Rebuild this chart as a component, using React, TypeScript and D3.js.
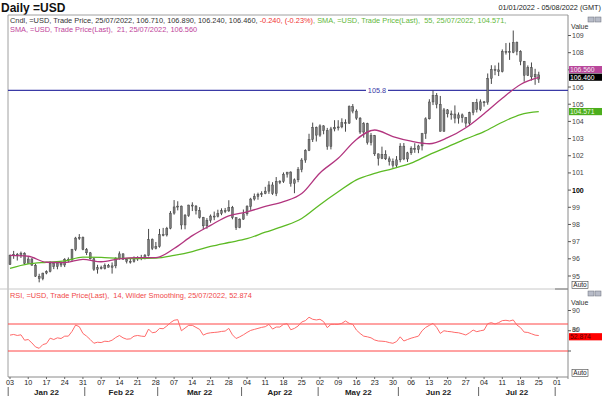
import * as d3 from 'd3';
import React, { useEffect, useRef } from 'react';

// trading days Jan 3 2022 .. Jul 25 2022 (weekdays), index 0..145
const opens = [
  95.67, 96.21, 96.26, 96.18, 96.33, 95.74, 95.99, 95.63, 94.99, 94.84,
  95.17, 95.26, 95.75, 95.54, 95.76, 95.64, 95.96, 95.94, 96.54, 97.21,
  97.24, 96.54, 96.35, 96.0, 95.39, 95.48, 95.42, 95.62, 95.51, 95.59,
  96.04, 96.29, 95.97, 95.86, 95.84, 96.05, 96.02, 96.06, 96.19, 97.12,
  96.61, 96.71, 97.41, 97.39, 97.78, 98.66, 99.02, 99.07, 97.97, 98.51,
  99.13, 99.07, 98.8, 98.4, 97.92, 98.24, 98.49, 98.48, 98.64, 98.8,
  98.79, 98.99, 98.39, 97.81, 98.31, 98.62, 99.04, 99.48, 99.63, 99.76,
  99.79, 99.94, 100.3, 99.8, 100.51, 100.5, 100.93, 101.05, 100.39, 100.6,
  101.19, 101.75, 102.31, 102.95, 103.65, 103.2, 103.74, 103.46, 102.54, 103.56,
  103.66, 103.68, 103.92, 103.9, 104.85, 104.6, 104.19, 103.38, 103.86, 102.76,
  103.17, 102.11, 101.85, 102.09, 101.82, 101.66, 101.45, 101.76, 102.56, 101.81,
  102.17, 102.44, 102.36, 102.57, 103.28, 104.15, 105.13, 105.51, 105.0, 103.42,
  104.67, 104.44, 104.43, 104.19, 104.38, 104.21, 103.9, 104.51, 105.09, 104.69,
  105.14, 105.12, 106.5, 107.02, 107.0, 106.89, 108.07, 108.06, 108.02, 108.6,
  108.08, 107.49, 106.68, 107.13, 106.59, 106.71
];
const highs = [
  96.25, 96.46, 96.34, 96.42, 96.38, 96.12, 96.04, 95.7, 95.13, 95.19,
  95.33, 95.86, 95.77, 95.84, 95.8, 96.04, 96.08, 96.58, 97.28, 97.44,
  97.3, 96.63, 96.4, 96.06, 95.65, 95.6, 95.73, 95.7, 95.79, 96.09,
  96.43, 96.32, 96.05, 96.05, 96.14, 96.15, 96.23, 96.28, 97.74, 97.19,
  96.98, 97.74, 97.8, 97.86, 98.78, 99.42, 99.35, 99.1, 98.61, 99.15,
  99.29, 99.13, 99.01, 98.44, 98.37, 98.58, 98.75, 98.86, 98.94, 98.96,
  99.41, 99.08, 98.42, 98.36, 98.87, 99.12, 99.55, 99.8, 99.85, 99.93,
  100.19, 100.52, 100.46, 100.76, 100.58, 101.03, 101.04, 101.1, 100.68, 101.34,
  101.86, 102.38, 103.28, 103.93, 103.7, 103.83, 103.78, 103.62, 103.68, 104.07,
  104.07, 104.18, 104.12, 104.93, 105.01, 104.7, 104.25, 103.96, 103.92, 103.32,
  103.21, 102.13, 102.53, 102.32, 101.96, 101.84, 101.98, 102.73, 102.74, 102.23,
  102.55, 102.73, 102.64, 103.33, 104.24, 105.29, 105.79, 105.65, 105.48, 104.78,
  104.72, 104.63, 104.93, 104.52, 104.46, 104.25, 104.56, 105.11, 105.31, 105.28,
  105.19, 106.79, 107.27, 107.26, 107.42, 108.19, 108.56, 108.58, 109.29, 108.65,
  108.14, 107.52, 107.26, 107.43, 107.06, 106.89
];
const lows = [
  95.64, 96.0, 95.9, 96.05, 95.7, 95.72, 95.6, 94.95, 94.63, 94.75,
  95.1, 95.21, 95.4, 95.39, 95.52, 95.52, 95.8, 95.82, 96.45, 97.1,
  96.5, 96.22, 95.96, 95.3, 95.14, 95.38, 95.38, 95.5, 95.14, 95.45,
  95.95, 95.95, 95.73, 95.72, 95.78, 95.88, 95.92, 95.97, 96.14, 96.51,
  96.55, 96.65, 97.31, 97.3, 97.72, 98.57, 98.82, 97.71, 97.72, 98.44,
  98.78, 98.58, 98.34, 97.71, 97.75, 98.1, 98.25, 98.41, 98.54, 98.66,
  98.73, 98.3, 97.68, 97.78, 98.27, 98.51, 98.85, 99.39, 99.44, 99.6,
  99.76, 99.78, 99.72, 99.65, 100.35, 100.42, 100.73, 100.2, 99.82, 100.46,
  101.04, 101.59, 102.27, 102.8, 102.83, 103.1, 103.25, 102.35, 102.37, 103.42,
  103.47, 103.6, 103.4, 103.85, 104.47, 104.09, 103.27, 103.05, 102.65, 102.6,
  101.99, 101.43, 101.8, 101.75, 101.43, 101.3, 101.3, 101.62, 101.74, 101.64,
  102.05, 102.17, 102.15, 102.31, 102.98, 104.11, 104.95, 104.76, 103.41, 103.4,
  104.23, 104.1, 103.89, 103.87, 103.93, 103.67, 103.74, 104.36, 104.52, 104.6,
  104.86, 104.97, 106.18, 106.69, 106.64, 106.85, 107.89, 107.58, 107.97, 107.85,
  107.27, 106.31, 106.64, 106.38, 106.13, 106.24
];
const closes = [
  96.21, 96.26, 96.18, 96.33, 95.74, 95.99, 95.63, 94.99, 94.84, 95.17,
  95.26, 95.75, 95.54, 95.76, 95.64, 95.96, 95.94, 96.54, 97.21, 97.24,
  96.54, 96.35, 96.0, 95.39, 95.48, 95.42, 95.62, 95.51, 95.59, 96.04,
  96.29, 95.97, 95.86, 95.84, 96.05, 96.02, 96.06, 96.19, 97.12, 96.61,
  96.71, 97.41, 97.39, 97.78, 98.66, 99.02, 99.07, 97.97, 98.51, 99.13,
  99.07, 98.8, 98.4, 97.92, 98.24, 98.49, 98.48, 98.64, 98.8, 98.79,
  98.99, 98.39, 97.81, 98.31, 98.62, 99.04, 99.48, 99.63, 99.76, 99.79,
  99.94, 100.3, 99.8, 100.51, 100.5, 100.93, 101.05, 100.39, 100.6, 101.19,
  101.75, 102.31, 102.95, 103.65, 103.2, 103.74, 103.46, 102.54, 103.56, 103.66,
  103.68, 103.92, 103.9, 104.85, 104.6, 104.19, 103.38, 103.86, 102.76, 103.17,
  102.11, 101.85, 102.09, 101.82, 101.66, 101.45, 101.76, 102.56, 101.81, 102.17,
  102.44, 102.36, 102.57, 103.28, 104.15, 105.13, 105.51, 105.0, 103.42, 104.67,
  104.44, 104.43, 104.19, 104.38, 104.21, 103.9, 104.51, 105.09, 104.69, 105.14,
  105.12, 106.5, 107.02, 107.0, 106.89, 108.07, 108.06, 108.02, 108.6, 108.08,
  107.49, 106.68, 107.13, 106.59, 106.73, 106.46
];

// moving averages read once per week (day index 0, 5, 10, ... 145)
const smaDays = [0, 5, 10, 15, 20, 25, 30, 35, 40, 45, 50, 55, 60, 65, 70, 75, 80, 85, 90, 95, 100, 105, 110, 115, 120, 125, 130, 135, 140, 145];
const sma21 = [
  96.2, 96.15, 95.8, 95.78, 95.97, 95.83, 96.0, 96.07, 96.07, 96.6,
  97.35, 97.95, 98.5, 98.73, 99.05, 99.33, 99.8, 101.0, 101.85, 102.95,
  103.5, 103.12, 102.85, 102.7, 103.05, 103.63, 104.45, 105.35, 106.15, 106.56
];
const sma55 = [
  95.44, 95.7, 95.8, 95.88, 96.1, 96.08, 96.03, 96.02, 96.04, 96.2,
  96.42, 96.72, 96.95, 97.17, 97.55, 97.9, 98.35, 99.15, 99.9, 100.6,
  100.97, 101.25, 101.57, 102.07, 102.52, 102.98, 103.4, 103.95, 104.4, 104.571
];

const rsi = [
  53.5, 54.5, 53, 54, 46, 47, 42, 36, 34, 39.5,
  41, 49, 47, 49.5, 48.5, 52, 52, 59, 68.5, 66,
  56, 52, 47, 41.5, 43, 42.5, 44.5, 44, 46, 50,
  53, 49.5, 47.5, 48, 52, 53, 52, 51.5, 62.5, 57,
  58, 63.5, 63, 67, 72, 75.5, 76.5, 60, 64, 68,
  68, 65, 62, 53.5, 56, 57, 57.5, 58, 59, 59.5,
  63.5, 54, 48.5, 51, 54, 57.5, 60.5, 62, 63.5, 65,
  66, 69.5, 62.5, 65.5, 65.5, 69.5, 70.5, 61.5, 63.5, 67,
  73, 75, 80, 77, 76, 77, 73.5, 64.6, 69.5, 69.5,
  69.5, 71, 74.5, 71, 69.5, 61, 56, 52, 51, 49.5,
  46.3, 44.8, 44.5, 44, 42.5, 41.4, 44, 51, 44.8, 47,
  49, 50.5, 52, 60, 65, 68, 71, 65, 56, 60,
  59, 58.5, 57.5, 57, 55.5, 53.7, 57, 61, 58.6, 60,
  61, 70.5, 72, 70, 72, 75, 75.5, 74.5, 76, 68.5,
  64.6, 58, 57.5, 55.5, 53.5, 52.874
];

const weekLabels = ['03', '10', '17', '24', '31', '07', '14', '21', '28', '07', '14', '21', '28', '04', '11', '18', '25', '02', '09', '16', '23', '30', '06', '13', '20', '27', '04', '11', '18', '25', '01'];
const monthNames = ['Jan 22', 'Feb 22', 'Mar 22', 'Apr 22', 'May 22', 'Jun 22', 'Jul 22'];
const monthStarts = [0, 21, 41, 64, 85, 107, 129, 150];
const priceTicks = [95, 96, 97, 98, 99, 100, 101, 102, 103, 104, 105, 106, 107, 108, 109];
const rsiTicks = [30, 60, 90];
const rsiBands = [70, 30];
const resistance = 105.8;

const FONT = 'Liberation Sans, Arial, sans-serif';

export default function App() {
  const ref = useRef<SVGSVGElement>(null);

  useEffect(() => {
    const svg = d3.select(ref.current);
    svg.selectAll('*').remove();

    const L = 8, R = 568;
    const mainTop = 15, mainBot = 289, rsiBot = 377;

    const x = d3.scaleLinear().domain([0, 150]).range([10, 557]);
    const y = d3.scaleLinear().domain([95, 109]).range([276, 35.5]);
    const yr = d3.scaleLinear().domain([30, 70]).range([351, 324]);

    svg.append('rect').attr('width', 602).attr('height', 396).attr('fill', '#fff');

    // title + range
    svg.append('text').attr('x', 1).attr('y', 12).attr('font-family', FONT)
      .attr('font-weight', 'bold').attr('font-size', 12).attr('fill', '#111').text('Daily =USD');
    svg.append('text').attr('x', 601).attr('y', 10).attr('text-anchor', 'end').attr('font-family', FONT)
      .attr('font-size', 7.3).attr('fill', '#222').text('01/01/2022 - 05/08/2022 (GMT)');

    const clip = svg.append('defs').append('clipPath').attr('id', 'mainclip');
    clip.append('rect').attr('x', L).attr('y', mainTop).attr('width', R - L).attr('height', mainBot - mainTop);

    // frame
    svg.append('line').attr('x1', L).attr('x2', R).attr('y1', mainTop).attr('y2', mainTop).attr('stroke', '#a0a0a0');
    svg.append('line').attr('x1', L).attr('x2', L).attr('y1', mainTop).attr('y2', rsiBot).attr('stroke', '#a0a0a0');
    svg.append('line').attr('x1', 0).attr('x2', R).attr('y1', mainBot).attr('y2', mainBot).attr('stroke', '#c8c8c8');
    svg.append('line').attr('x1', 555).attr('x2', R).attr('y1', mainBot).attr('y2', mainBot).attr('stroke', '#777');
    svg.append('line').attr('x1', R).attr('x2', R).attr('y1', mainTop).attr('y2', rsiBot + 2).attr('stroke', '#8a8a8a');
    svg.append('line').attr('x1', L).attr('x2', R).attr('y1', rsiBot).attr('y2', rsiBot).attr('stroke', '#8a8a8a');

    const plot = svg.append('g').attr('clip-path', 'url(#mainclip)');

    // resistance line
    plot.append('line').attr('x1', L).attr('x2', R).attr('y1', y(resistance)).attr('y2', y(resistance))
      .attr('stroke', '#3a3aa6').attr('stroke-width', 1.3);
    plot.append('rect').attr('x', 366).attr('y', y(resistance) - 4).attr('width', 22).attr('height', 8).attr('fill', '#fff');
    plot.append('text').attr('x', 377).attr('y', y(resistance) + 2.6).attr('text-anchor', 'middle')
      .attr('font-family', FONT).attr('font-size', 7.3).attr('fill', '#3a3aa6').text(String(resistance));

    // candles
    const idx = d3.range(closes.length);
    const candles = plot.append('g');
    candles.selectAll('line').data(idx).enter().append('line')
      .attr('x1', (i) => x(i)).attr('x2', (i) => x(i))
      .attr('y1', (i) => y(highs[i])).attr('y2', (i) => y(lows[i]))
      .attr('stroke', '#333').attr('stroke-width', 0.9);
    candles.selectAll('rect').data(idx).enter().append('rect')
      .attr('x', (i) => x(i) - 1).attr('width', 2)
      .attr('y', (i) => y(Math.max(opens[i], closes[i])))
      .attr('height', (i) => Math.max(1, Math.abs(y(opens[i]) - y(closes[i]))))
      .attr('fill', '#7a7a7a').attr('stroke', '#3a3a3a').attr('stroke-width', 0.4);

    const smaLine = d3.line<number>().x((d, k) => x(smaDays[k])).y((d) => y(d)).curve(d3.curveMonotoneX);
    plot.append('path').attr('d', smaLine(sma55)).attr('fill', 'none').attr('stroke', '#5cba24').attr('stroke-width', 1.3);
    plot.append('path').attr('d', smaLine(sma21)).attr('fill', 'none').attr('stroke', '#b2357f').attr('stroke-width', 1.3);

    // legend
    const leg = svg.append('text').attr('x', 10).attr('y', 22.5).attr('font-family', FONT)
      .attr('font-size', 7.4).style('white-space', 'pre');
    leg.append('tspan').attr('fill', '#333')
      .text('Cndl, =USD, Trade Price, 25/07/2022, 106.710, 106.890, 106.240, 106.460, ');
    leg.append('tspan').attr('fill', '#f03030').text('-0.240, (-0.23%)');
    leg.append('tspan').attr('fill', '#62b83a').text(', SMA, =USD, Trade Price(Last),  55, 25/07/2022, 104.571,');
    svg.append('text').attr('x', 10).attr('y', 31.5).attr('font-family', FONT).attr('font-size', 7.4)
      .style('white-space', 'pre').attr('fill', '#c0449a')
      .text('SMA, =USD, Trade Price(Last),  21, 25/07/2022, 106.560');

    // value boxes on the price axis (centres)
    const boxCentres = [69.6, 77.2, y(sma55[sma55.length - 1])];

    // price axis
    const axisG = svg.append('g').attr('font-family', FONT).attr('font-size', 7).attr('fill', '#333');
    axisG.append('text').attr('x', 571).attr('y', 29).text('Value');
    priceTicks.forEach((v) => {
      axisG.append('line').attr('x1', R).attr('x2', R + 3).attr('y1', y(v)).attr('y2', y(v)).attr('stroke', '#555');
      if (boxCentres.some((c) => Math.abs(c - y(v)) < 7)) return; // hidden behind value tags
      axisG.append('text').attr('x', R + 4).attr('y', y(v) + 2.5)
        .attr('font-weight', v === 100 ? 'bold' : 'normal').attr('fill', v === 100 ? '#000' : '#444').text(String(v));
    });

    const valueBox = (cy: number, bg: string, fg: string, label: string) => {
      svg.append('rect').attr('x', R + 1).attr('y', cy - 3.6).attr('width', 602 - R).attr('height', 7.2).attr('fill', bg);
      svg.append('text').attr('x', R + 2).attr('y', cy + 2.3).attr('font-family', FONT).attr('font-size', 6.8)
        .attr('fill', fg).text(label);
    };
    valueBox(boxCentres[0], '#b9479b', '#f4e6f0', sma21[sma21.length - 1].toFixed(3));
    valueBox(boxCentres[1], '#000', '#fff', closes[closes.length - 1].toFixed(3));
    valueBox(boxCentres[2], '#4cae1c', '#e8f8e0', sma55[sma55.length - 1].toFixed(3));

    const autoBox = (bx: number, by: number) => {
      svg.append('rect').attr('x', bx).attr('y', by).attr('width', 16).attr('height', 7).attr('fill', '#fff')
        .attr('stroke', '#444').attr('stroke-width', 0.6);
      svg.append('text').attr('x', bx + 8).attr('y', by + 5.8).attr('text-anchor', 'middle').attr('font-family', FONT)
        .attr('font-size', 6.5).attr('fill', '#222').text('Auto');
    };
    const icons = (iy: number) => {
      [588, 595].forEach((ix) => {
        svg.append('rect').attr('x', ix).attr('y', iy).attr('width', 6).attr('height', 5).attr('fill', '#b8bcc8')
          .attr('stroke', '#6a6e7a').attr('stroke-width', 0.5);
      });
    };
    icons(17);
    autoBox(572, 281.5);
    icons(291);
    autoBox(572, 369.5);

    // RSI panel
    rsiBands.forEach((v) => {
      svg.append('line').attr('x1', L).attr('x2', R).attr('y1', yr(v)).attr('y2', yr(v)).attr('stroke', '#ff4646').attr('stroke-width', 1);
    });
    const rsiLine = d3.line<number>().x((d, i) => x(i)).y((d) => yr(d));
    svg.append('path').attr('d', rsiLine(rsi)).attr('fill', 'none').attr('stroke', '#ff6a6a').attr('stroke-width', 1);
    svg.append('text').attr('x', 10).attr('y', 298).attr('font-family', FONT).attr('font-size', 7.4)
      .style('white-space', 'pre').attr('fill', '#f04848')
      .text('RSI, =USD, Trade Price(Last),  14, Wilder Smoothing, 25/07/2022, 52.874');
    axisG.append('text').attr('x', 571).attr('y', 305).text('Value');
    const rsiBox = yr(rsi[rsi.length - 1]) + 1.2;
    rsiTicks.forEach((v) => {
      axisG.append('line').attr('x1', R).attr('x2', R + 3).attr('y1', yr(v)).attr('y2', yr(v)).attr('stroke', '#555');
      const ty = Math.min(yr(v) + 2.5, rsiBox - 5);
      axisG.append('text').attr('x', R + 4).attr('y', ty).attr('font-size', v === 60 ? 6 : 7).attr('fill', '#444').text(String(v));
    });
    valueBox(rsiBox, '#ff0000', '#5a0000', rsi[rsi.length - 1].toFixed(3));

    // time axis
    const tg = svg.append('g').attr('font-family', FONT).attr('fill', '#222');
    weekLabels.forEach((lab, k) => {
      const xi = x(k * 5);
      tg.append('line').attr('x1', xi).attr('x2', xi).attr('y1', rsiBot).attr('y2', rsiBot + 2).attr('stroke', '#666');
      tg.append('text').attr('x', xi).attr('y', 384.5).attr('text-anchor', 'middle').attr('font-size', 7.2).text(lab);
    });
    monthStarts.forEach((m) => {
      const xm = x(m - 0.5);
      tg.append('line').attr('x1', xm).attr('x2', xm).attr('y1', 387).attr('y2', 396).attr('stroke', '#666');
    });
    monthNames.forEach((name, k) => {
      const cx = (x(monthStarts[k] - 0.5) + x(monthStarts[k + 1] - 0.5)) / 2;
      tg.append('text').attr('x', cx).attr('y', 395).attr('text-anchor', 'middle').attr('font-size', 8)
        .attr('font-weight', 'bold').text(name);
    });
  }, []);

  return <svg ref={ref} width={602} height={396} style={{ position: 'absolute', left: 0, top: 0 }} />;
}
